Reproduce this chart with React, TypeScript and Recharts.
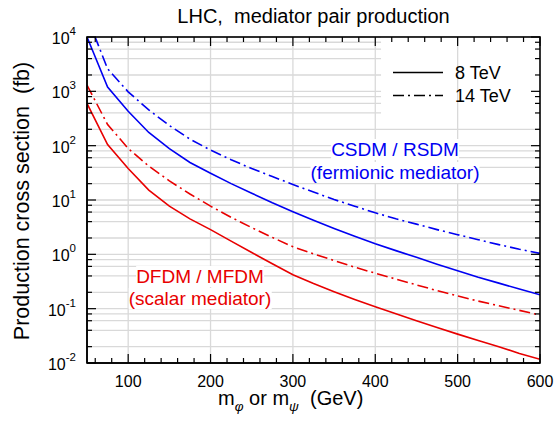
import {
  CartesianGrid,
  Line,
  LineChart,
  ReferenceArea,
  ReferenceLine,
  XAxis,
  YAxis,
} from "recharts";

const FONT = '"Liberation Sans", Arial, Helvetica, sans-serif';
const BLUE = "#0000f2";
const RED = "#e80000";
const GRID = "#d9d9d9";
const DASH_DOT = "11 4 2 4";

// plot box (chart is 560x424; margins/axis sizes below give this box)
const PLOT_X = 87;
const PLOT_Y = 37;
const PLOT_W = 453;
const PLOT_H = 326;
const X_MIN = 50;
const X_MAX = 600;
const Y_DECADES = 6; // 1e-2 .. 1e4

// mediator mass (GeV)
const masses = [
  50, 75, 100, 125, 150, 175, 200, 225, 250, 275, 300, 325, 350, 375, 400, 425,
  450, 475, 500, 525, 550, 575, 600,
];

// cross sections (fb)
const fermionic8 = [
  10000, 1200, 430, 175, 88, 49, 31, 20, 13.3, 8.9, 6.1, 4.25, 3.0, 2.16, 1.57,
  1.17, 0.88, 0.66, 0.5, 0.38, 0.295, 0.23, 0.18,
];
const fermionic14 = [
  24000, 2600, 980, 455, 235, 132, 83, 55, 38, 27, 19.3, 14, 10.2, 7.7, 5.8,
  4.5, 3.6, 2.85, 2.3, 1.86, 1.51, 1.24, 1.04,
];
const scalar8 = [
  600, 105, 38, 15.2, 7.7, 4.5, 2.85, 1.75, 1.08, 0.67, 0.42, 0.29, 0.205,
  0.148, 0.109, 0.081, 0.06, 0.045, 0.034, 0.026, 0.02, 0.015, 0.0117,
];
const scalar14 = [
  1300, 245, 89, 42, 22.5, 12.9, 7.7, 4.8, 3.1, 2.05, 1.38, 1.02, 0.77, 0.58,
  0.45, 0.35, 0.274, 0.215, 0.171, 0.138, 0.113, 0.093, 0.076,
];

const massTicks = [
  60, 80, 100, 120, 140, 160, 180, 200, 220, 240, 260, 280, 300, 320, 340, 360,
  380, 400, 420, 440, 460, 480, 500, 520, 540, 560, 580, 600,
];
const massGrid = [100, 200, 300, 400, 500];
const sigmaTicks = [
  0.01, 0.02, 0.04, 0.06, 0.08, 0.1, 0.2, 0.4, 0.6, 0.8, 1, 2, 4, 6, 8, 10, 20,
  40, 60, 80, 100, 200, 400, 600, 800, 1000, 2000, 4000, 6000, 8000, 10000,
];

const data = masses.map((m, i) => ({
  m,
  fermionic8: fermionic8[i],
  fermionic14: fermionic14[i],
  scalar8: scalar8[i],
  scalar14: scalar14[i],
}));

const axisLine = { stroke: "#000", strokeWidth: 1.5 };
const isDecade = (v: number) =>
  Math.abs(Math.log10(v) - Math.round(Math.log10(v))) < 1e-6;

function MassTick({ x, y, payload }: any) {
  const major = payload.value % 100 === 0;
  return (
    <g>
      <line x1={x} y1={y} x2={x} y2={y - (major ? 9 : 5)} stroke="#000" strokeWidth={1.2} />
      {major && (
        <text x={x} y={y + 24} textAnchor="middle" fontSize={16} fill="#000" fontFamily={FONT}>
          {payload.value}
        </text>
      )}
    </g>
  );
}

function SigmaTick({ x, y, payload }: any) {
  const v = payload.value;
  const dec = isDecade(v);
  return (
    <g>
      <line x1={x} y1={y} x2={x + (dec ? 9 : 5)} y2={y} stroke="#000" strokeWidth={1.2} />
      {dec && (
        <text x={x - 11} y={y + 7} textAnchor="end" fontSize={16} fill="#000" fontFamily={FONT}>
          10
          <tspan dy={-9} fontSize={11.5}>
            {Math.round(Math.log10(v))}
          </tspan>
        </text>
      )}
    </g>
  );
}

// mirrored ticks on the top and right edges of the frame
function MirrorTicks() {
  const top = PLOT_Y;
  const right = PLOT_X + PLOT_W;
  return (
    <g stroke="#000" strokeWidth={1.2}>
      {massTicks.map((m) => {
        const x = PLOT_X + ((m - X_MIN) / (X_MAX - X_MIN)) * PLOT_W;
        const len = m % 100 === 0 ? 9 : 5;
        return <line key={`t${m}`} x1={x} y1={top} x2={x} y2={top + len} />;
      })}
      {sigmaTicks.map((v) => {
        const y = PLOT_Y + ((4 - Math.log10(v)) / Y_DECADES) * PLOT_H;
        const len = isDecade(v) ? 9 : 5;
        return <line key={`r${v}`} x1={right} y1={y} x2={right - len} y2={y} />;
      })}
    </g>
  );
}

const boxText = (color: string) => ({
  position: "absolute" as const,
  transform: "translateX(-50%)",
  whiteSpace: "nowrap" as const,
  background: "#fff",
  color,
  fontFamily: FONT,
  fontSize: 19,
  lineHeight: "21px",
});

export default function App() {
  return (
    <div style={{ position: "relative", width: 560, height: 424, background: "#fff" }}>
      <style>{"body{margin:0}"}</style>
      <LineChart
        width={560}
        height={424}
        data={data}
        margin={{ top: PLOT_Y, right: 560 - PLOT_X - PLOT_W, bottom: 0, left: 0 }}
      >
        <CartesianGrid vertical={false} stroke={GRID} strokeWidth={1.3} />
        {massGrid.map((m) => (
          <ReferenceLine key={m} x={m} stroke={GRID} strokeWidth={1.3} />
        ))}
        {/* legend background */}
        <ReferenceArea x1={407} x2={600} y1={220} y2={10000} fill="#fff" fillOpacity={1} stroke="none" />
        <Line dataKey="fermionic14" stroke={BLUE} strokeWidth={1.6} strokeDasharray={DASH_DOT} dot={false} type="linear" isAnimationActive={false} />
        <Line dataKey="fermionic8" stroke={BLUE} strokeWidth={1.6} dot={false} type="linear" isAnimationActive={false} />
        <Line dataKey="scalar14" stroke={RED} strokeWidth={1.6} strokeDasharray={DASH_DOT} dot={false} type="linear" isAnimationActive={false} />
        <Line dataKey="scalar8" stroke={RED} strokeWidth={1.6} dot={false} type="linear" isAnimationActive={false} />
        <XAxis
          dataKey="m"
          type="number"
          domain={[X_MIN, X_MAX]}
          allowDataOverflow
          ticks={massTicks}
          interval={0}
          height={424 - PLOT_Y - PLOT_H}
          tickSize={0}
          tickMargin={0}
          tickLine={false}
          axisLine={axisLine}
          tick={<MassTick />}
        />
        <YAxis
          scale="log"
          type="number"
          domain={[0.01, 10000]}
          allowDataOverflow
          ticks={sigmaTicks}
          interval={0}
          width={PLOT_X}
          tickSize={0}
          tickMargin={0}
          tickLine={false}
          axisLine={axisLine}
          tick={<SigmaTick />}
        />
      </LineChart>

      <svg
        width={560}
        height={424}
        style={{ position: "absolute", left: 0, top: 0, pointerEvents: "none" }}
        fontFamily={FONT}
      >
        <rect x={PLOT_X} y={PLOT_Y} width={PLOT_W} height={PLOT_H} fill="none" stroke="#000" strokeWidth={1.6} />
        <MirrorTicks />

        <text x={313.5} y={23} textAnchor="middle" fontSize={20} fill="#000" style={{ whiteSpace: "pre" }}>
          LHC,  mediator pair production
        </text>
        <text
          transform="rotate(-90)"
          x={-201}
          y={28.5}
          textAnchor="middle"
          fontSize={21.5}
          fill="#000"
          style={{ whiteSpace: "pre" }}
        >
          Production cross section  (fb)
        </text>
        <text x={218} y={405} fontSize={20} fill="#000" style={{ whiteSpace: "pre" }}>
          m
          <tspan fontSize={13.5} dy={6} fontStyle="italic">φ</tspan>
          <tspan dy={-6}> or m</tspan>
          <tspan fontSize={13.5} dy={6} fontStyle="italic">ψ</tspan>
          <tspan dy={-6}>  (GeV)</tspan>
        </text>

        <line x1={393} x2={443} y1={72.5} y2={72.5} stroke="#000" strokeWidth={1.5} />
        <text x={455} y={79} fontSize={18} fill="#000">8 TeV</text>
        <line x1={393} x2={443} y1={95.5} y2={95.5} stroke="#000" strokeWidth={1.5} strokeDasharray={DASH_DOT} />
        <text x={455} y={102} fontSize={18} fill="#000">14 TeV</text>
      </svg>

      <div style={{ ...boxText(BLUE), left: 395, top: 139.4 }}>CSDM / RSDM</div>
      <div style={{ ...boxText(BLUE), left: 395, top: 161.9 }}>(fermionic mediator)</div>
      <div style={{ ...boxText(RED), left: 200, top: 266.2 }}>DFDM / MFDM</div>
      <div style={{ ...boxText(RED), left: 200, top: 288 }}>(scalar mediator)</div>
    </div>
  );
}
